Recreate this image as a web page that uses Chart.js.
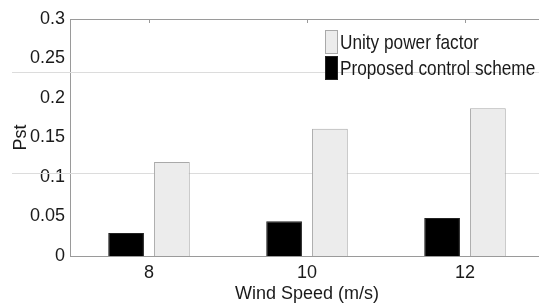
<!DOCTYPE html>
<html>
<head>
<meta charset="utf-8">
<script src="https://cdn.jsdelivr.net/npm/chart.js@4/dist/chart.umd.min.js"></script>
<style>
  body { margin: 0; background: #fff; overflow: hidden; }
  #wrap { position: relative; width: 548px; height: 307px; }
  #legend { position: absolute; left: 325px; top: 29px; font-family: "Liberation Sans", Arial, sans-serif; font-size: 21px; color: #1a1a1a; white-space: nowrap; }
  #legend .row { display: flex; align-items: center; height: 26px; }
  #legend .box { width: 13px; height: 24px; margin-right: 2px; box-sizing: border-box; flex: none; }
  #legend .txt { display: inline-block; transform: scaleX(0.82); transform-origin: left center; }
</style>
</head>
<body>
<div id="wrap">
  <canvas id="myChart" width="548" height="307"></canvas>
  <div id="legend"></div>
</div>
<script>
  // wind speed categories
  const windSpeeds = ["8", "10", "12"];
  // Pst values
  const proposedPst = [0.029, 0.044, 0.048];
  const unityPst = [0.119, 0.161, 0.187];
  const yTicks = [0, 0.05, 0.1, 0.15, 0.2, 0.25, 0.3];
  // stray horizontal rules in the original figure
  const refLines = [0.233, 0.105];

  const fontFam = '"Liberation Sans", Arial, sans-serif';
  const lightFill = "#ececec";
  const lightEdge = "#a9a9a9";
  const axisGrey = "#9a9a9a";

  const frame = {
    id: "frame",
    beforeDatasetsDraw(chart) {
      const ctx = chart.ctx;
      const a = chart.chartArea;
      const y = chart.scales.y;
      const x = chart.scales.x;
      ctx.save();
      ctx.strokeStyle = "#dcdcdc";
      ctx.lineWidth = 1;
      refLines.forEach(v => {
        const py = Math.round(y.getPixelForValue(v)) + 0.5;
        ctx.beginPath();
        ctx.moveTo(12, py);
        ctx.lineTo(chart.width, py);
        ctx.stroke();
      });
      // top box line
      ctx.strokeStyle = axisGrey;
      ctx.beginPath();
      ctx.moveTo(a.left, a.top + 0.5);
      ctx.lineTo(a.right, a.top + 0.5);
      ctx.stroke();
      // small inward ticks on top edge
      windSpeeds.forEach((c, i) => {
        const px = Math.round(x.getPixelForValue(i)) + 0.5;
        ctx.beginPath();
        ctx.moveTo(px, a.top);
        ctx.lineTo(px, a.top + 4);
        ctx.stroke();
      });
      ctx.restore();
    }
  };

  const config = {
    type: "bar",
    data: {
      labels: windSpeeds,
      datasets: [
        {
          label: "Proposed control scheme",
          data: proposedPst,
          backgroundColor: "#000",
          borderColor: "#222",
          borderWidth: 1,
          categoryPercentage: 0.58,
          barPercentage: 0.78
        },
        {
          label: "Unity power factor",
          data: unityPst,
          backgroundColor: lightFill,
          borderColor: lightEdge,
          borderWidth: 1,
          categoryPercentage: 0.58,
          barPercentage: 0.78
        }
      ]
    },
    options: {
      responsive: false,
      animation: false,
      layout: { padding: { top: 19, right: 4, bottom: 0, left: 8 } },
      plugins: { legend: { display: false }, tooltip: { enabled: false } },
      scales: {
        x: {
          grid: { display: false, drawTicks: false },
          border: { display: true, color: axisGrey, width: 1 },
          ticks: { color: "#1a1a1a", padding: 6, font: { family: fontFam, size: 18 } },
          title: { display: true, text: "Wind Speed (m/s)", color: "#1a1a1a", padding: { top: 0, bottom: 2 }, font: { family: fontFam, size: 18 } },
          afterFit(s) { s.height = 51; }
        },
        y: {
          min: 0,
          max: 0.3,
          afterBuildTicks(s) { s.ticks = yTicks.map(v => ({ value: v })); },
          grid: { display: false, drawTicks: false },
          border: { display: true, color: axisGrey, width: 1 },
          ticks: { color: "#1a1a1a", padding: 5, font: { family: fontFam, size: 18 },
            callback: v => String(+v.toFixed(2)) },
          title: { display: true, text: "Pst", color: "#1a1a1a", padding: { top: 2, bottom: 0 }, font: { family: fontFam, size: 18 } },
          afterFit(s) { s.width = 62; }
        }
      }
    },
    plugins: [frame]
  };
  var myChart = new Chart(document.getElementById("myChart"), config);

  // legend, unity first like the original
  const leg = document.getElementById("legend");
  [1, 0].forEach(i => {
    const ds = myChart.data.datasets[i];
    const row = document.createElement("div");
    row.className = "row";
    const box = document.createElement("span");
    box.className = "box";
    box.style.background = ds.backgroundColor;
    box.style.border = "1px solid " + ds.borderColor;
    row.appendChild(box);
    const txt = document.createElement("span");
    txt.className = "txt";
    txt.textContent = ds.label;
    row.appendChild(txt);
    leg.appendChild(row);
  });
</script>
</body>
</html>
